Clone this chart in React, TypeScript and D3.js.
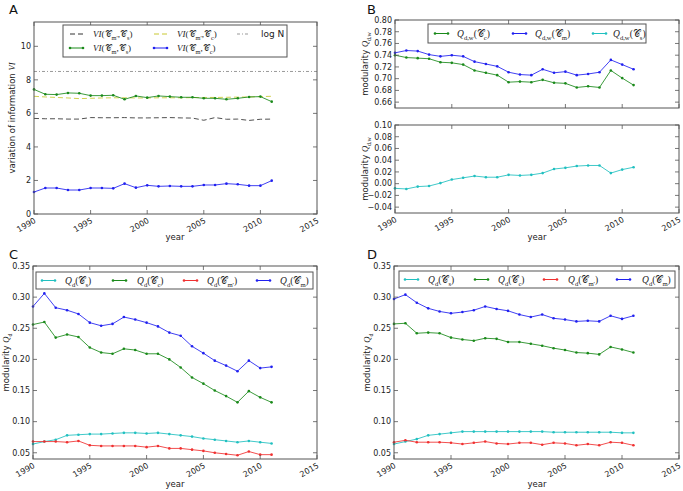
import React from "react";
import * as d3 from "d3";

const years = [1990,1991,1992,1993,1994,1995,1996,1997,1998,1999,2000,2001,2002,2003,2004,2005,2006,2007,2008,2009,2010,2011];

// Panel A
const viMCs = [7.43,7.14,7.12,7.22,7.20,7.06,7.06,7.08,6.84,7.04,6.94,7.04,7.00,6.96,6.96,6.90,6.90,6.84,6.90,6.98,7.00,6.70];
const viMCc = [1.31,1.55,1.55,1.43,1.43,1.55,1.55,1.53,1.81,1.57,1.71,1.65,1.67,1.65,1.65,1.73,1.73,1.81,1.77,1.69,1.69,1.99];
const viMpCc = [7.02,6.98,6.95,6.92,6.88,6.90,6.92,6.93,6.93,6.92,6.92,6.93,6.93,6.93,6.94,6.95,6.95,6.96,6.97,6.98,7.00,7.02];
const viMpCs = [5.70,5.68,5.68,5.66,5.66,5.75,5.74,5.74,5.75,5.73,5.73,5.74,5.75,5.73,5.72,5.59,5.75,5.65,5.66,5.58,5.65,5.66];
const logN = 8.5;

// Panel B
const qdwCm = [0.744,0.748,0.747,0.741,0.738,0.740,0.738,0.729,0.725,0.721,0.711,0.707,0.706,0.716,0.710,0.712,0.706,0.708,0.711,0.732,0.724,0.716];
const qdwCc = [0.740,0.736,0.735,0.734,0.728,0.727,0.724,0.714,0.710,0.706,0.694,0.695,0.694,0.698,0.693,0.692,0.685,0.687,0.685,0.714,0.701,0.689];
const qdwCs = [-0.008,-0.009,-0.005,-0.004,0.001,0.007,0.010,0.013,0.011,0.011,0.015,0.014,0.015,0.018,0.025,0.027,0.030,0.031,0.031,0.018,0.024,0.028];

// Panel C
const cCm = [0.285,0.306,0.283,0.279,0.273,0.259,0.254,0.257,0.268,0.264,0.259,0.253,0.243,0.238,0.221,0.210,0.198,0.190,0.181,0.198,0.186,0.188];
const cCc = [0.256,0.260,0.235,0.240,0.236,0.219,0.211,0.209,0.217,0.215,0.209,0.209,0.200,0.187,0.171,0.161,0.150,0.141,0.131,0.149,0.139,0.131];
const cCs = [0.064,0.068,0.071,0.078,0.079,0.080,0.080,0.081,0.082,0.082,0.081,0.082,0.080,0.078,0.076,0.073,0.071,0.069,0.067,0.069,0.067,0.065];
const cCmp = [0.068,0.068,0.068,0.067,0.069,0.062,0.061,0.061,0.061,0.061,0.059,0.061,0.057,0.057,0.055,0.053,0.050,0.048,0.046,0.052,0.047,0.047];

// Panel D
const dCm = [0.297,0.304,0.291,0.282,0.277,0.274,0.276,0.279,0.285,0.281,0.278,0.272,0.268,0.272,0.266,0.264,0.261,0.262,0.261,0.270,0.265,0.270];
const dCc = [0.257,0.258,0.242,0.243,0.242,0.235,0.232,0.230,0.234,0.233,0.228,0.228,0.225,0.222,0.218,0.215,0.211,0.210,0.208,0.220,0.216,0.211];
const dCs = [0.064,0.068,0.072,0.078,0.080,0.082,0.084,0.084,0.084,0.084,0.084,0.084,0.084,0.084,0.083,0.083,0.083,0.083,0.083,0.083,0.082,0.082];
const dCmp = [0.067,0.070,0.067,0.067,0.067,0.066,0.064,0.066,0.068,0.065,0.064,0.066,0.066,0.063,0.066,0.065,0.062,0.064,0.062,0.067,0.066,0.062];

const xTickVals = [1990,1995,2000,2005,2010,2015];

const BLUE = "#2020f0";
const GREEN = "#1a8a1a";
const RED = "#f03030";
const CYAN = "#20c0c0";
const YELLOW = "#c8c830";
const FRAME = "#555";
const SANS = "DejaVu Sans, sans-serif";
const SERIF = "Liberation Serif, DejaVu Serif, serif";

type Seg = [string, string];

function Mt({ x, y, segs, size = 10, anchor = "start", transform }: any) {
  let cur = 0;
  const out: any[] = [];
  segs.forEach(([t, k]: Seg, i: number) => {
    const target = k === "s" ? size * 0.3 : 0;
    const dy = target - cur;
    cur = target;
    out.push(
      <tspan key={i} dy={dy} fontSize={k === "s" ? size * 0.7 : size} fontStyle={k === "i" ? "italic" : "normal"}
        fontFamily={k === "t" ? SANS : SERIF}>
        {t}
      </tspan>
    );
  });
  return (
    <text x={x} y={y} textAnchor={anchor} fill="#222" transform={transform}>
      {out}
    </text>
  );
}

function Frame({ x, y, yTicks, yFmt, showXLabels }: any) {
  const [x0, x1] = x.range();
  const [yb, yt] = y.range();
  return (
    <g>
      {xTickVals.map((t) => (
        <g key={"x" + t}>
          <line x1={x(t)} x2={x(t)} y1={yb} y2={yb - 4} stroke={FRAME} strokeWidth={0.8} />
          <line x1={x(t)} x2={x(t)} y1={yt} y2={yt + 4} stroke={FRAME} strokeWidth={0.8} />
          {showXLabels && (
            <text transform={`translate(${x(t) - 0.5},${yb + 3}) rotate(-30)`} textAnchor="end" dy="0.75em"
              fontSize={8} fontFamily={SANS} fill="#222">{t}</text>
          )}
        </g>
      ))}
      {yTicks.map((t: number) => (
        <g key={"y" + t}>
          <line x1={x0} x2={x0 + 4} y1={y(t)} y2={y(t)} stroke={FRAME} strokeWidth={0.8} />
          <line x1={x1} x2={x1 - 4} y1={y(t)} y2={y(t)} stroke={FRAME} strokeWidth={0.8} />
          <text x={x0 - 3} y={y(t)} dy="0.35em" textAnchor="end" fontSize={8} fontFamily={SANS} fill="#222">
            {yFmt(t)}
          </text>
        </g>
      ))}
      <rect x={x0} y={yt} width={x1 - x0} height={yb - yt} fill="none" stroke={FRAME} strokeWidth={1} />
    </g>
  );
}

function Series({ x, y, vals, color, dash, markers = true }: any) {
  const line = d3.line<number>().x((_, i) => x(years[i])).y((v) => y(v));
  return (
    <g>
      <path d={line(vals) || ""} fill="none" stroke={color} strokeWidth={1} strokeDasharray={dash} strokeOpacity={0.85} />
      {markers && vals.map((v: number, i: number) => (
        <circle key={i} cx={x(years[i])} cy={y(v)} r={1.3} fill={color} />
      ))}
    </g>
  );
}

function LegSample({ x, y, color, dash, markers = true }: any) {
  return (
    <g>
      <line x1={x} x2={x + 13} y1={y} y2={y} stroke={color} strokeWidth={1} strokeDasharray={dash} />
      {markers && <circle cx={x} cy={y} r={1.3} fill={color} />}
      {markers && <circle cx={x + 13} cy={y} r={1.3} fill={color} />}
    </g>
  );
}

const fmt2 = (v: number) => (v < 0 ? "\u2212" + Math.abs(v).toFixed(2) : v.toFixed(2));
const C = "\u{1D49E}";

function qd(sub: string): Seg[] {
  return [["Q", "i"], ["d", "s"], ["(", "n"], [C, "n"], [sub, "s"], [")", "n"]];
}
function qdw(sub: string): Seg[] {
  return [["Q", "i"], ["d,w", "s"], ["(", "n"], [C, "n"], [sub, "s"], [")", "n"]];
}
function vi(a: string, b: string): Seg[] {
  return [["VI", "i"], ["(", "n"], [C, "n"], [a, "s"], [",", "n"], [C, "n"], [b, "s"], [")", "n"]];
}

export default function App() {
  // Panel A
  const xA = d3.scaleLinear().domain([1990, 2015]).range([34, 317]);
  const yA = d3.scaleLinear().domain([0, 11.45]).range([214, 22]);
  // Panel B
  const xB = d3.scaleLinear().domain([1990, 2015]).range([395, 679]);
  const yB1 = d3.scaleLinear().domain([0.65, 0.8]).range([108, 20]);
  const yB2 = d3.scaleLinear().domain([-0.05, 0.1]).range([213, 125]);
  // Panel C / D
  const xC = d3.scaleLinear().domain([1990, 2015]).range([33, 317]);
  const yC = d3.scaleLinear().domain([0.04, 0.35]).range([459, 266]);
  const xD = d3.scaleLinear().domain([1990, 2015]).range([394, 679]);
  const yD = d3.scaleLinear().domain([0.04, 0.35]).range([459, 266]);

  const qTicks = [0.05, 0.1, 0.15, 0.2, 0.25, 0.3, 0.35];

  return (
    <svg width={683} height={491} style={{ display: "block", position: "absolute", left: 0, top: 0 }}>
      <rect width={683} height={491} fill="#fff" />

      {/* Panel A */}
      <text x={9} y={14} fontSize={13} fontFamily={SANS} fill="#111">A</text>
      <line x1={34} x2={317} y1={yA(logN)} y2={yA(logN)} stroke="#999" strokeWidth={1} strokeDasharray="3,2,1,2" />
      <Series x={xA} y={yA} vals={viMpCs} color="#333" dash="5,3" markers={false} />
      <Series x={xA} y={yA} vals={viMpCc} color={YELLOW} dash="5,3" markers={false} />
      <Series x={xA} y={yA} vals={viMCs} color={GREEN} />
      <Series x={xA} y={yA} vals={viMCc} color={BLUE} />
      <Frame x={xA} y={yA} yTicks={[0, 2, 4, 6, 8, 10]} yFmt={(v: number) => String(v)} showXLabels />
      <rect x={63} y={25} width={224} height={32} fill="#fff" stroke={FRAME} strokeWidth={1} />
      <LegSample x={70} y={34} color="#333" dash="5,3" markers={false} />
      <Mt x={93} y={37} segs={vi("m\u2032", "s")} size={9} />
      <LegSample x={154} y={34} color={YELLOW} dash="5,3" markers={false} />
      <Mt x={177} y={37} segs={vi("m\u2032", "c")} size={9} />
      <LegSample x={237} y={34} color="#999" dash="3,2,1,2" markers={false} />
      <text x={261} y={37} fontSize={9} fontFamily={SANS} fill="#222">log N</text>
      <LegSample x={70} y={48} color={GREEN} />
      <Mt x={93} y={51} segs={vi("m", "s")} size={9} />
      <LegSample x={154} y={48} color={BLUE} />
      <Mt x={177} y={51} segs={vi("m", "c")} size={9} />
      <Mt x={0} y={0} transform={`translate(15,${(22 + 214) / 2}) rotate(-90)`} anchor="middle" size={8.5}
        segs={[["variation of information ", "t"], ["VI", "i"]]} />
      <text x={175} y={240} textAnchor="middle" fontSize={8.5} fontFamily={SANS} fill="#222">year</text>

      {/* Panel B */}
      <text x={367} y={14} fontSize={13} fontFamily={SANS} fill="#111">B</text>
      <Series x={xB} y={yB1} vals={qdwCc} color={GREEN} />
      <Series x={xB} y={yB1} vals={qdwCm} color={BLUE} />
      <Frame x={xB} y={yB1} yTicks={[0.66, 0.68, 0.7, 0.72, 0.74, 0.76, 0.78, 0.8]} yFmt={fmt2} showXLabels={false} />
      <rect x={428} y={24} width={218} height={19} fill="#fff" stroke={FRAME} strokeWidth={1} />
      <LegSample x={435} y={33.5} color={GREEN} />
      <Mt x={457} y={37} segs={qdw("c")} size={9.5} />
      <LegSample x={513} y={33.5} color={BLUE} />
      <Mt x={535} y={37} segs={qdw("m")} size={9.5} />
      <LegSample x={593} y={33.5} color={CYAN} />
      <Mt x={613} y={37} segs={qdw("s")} size={9.5} />
      <Mt x={0} y={0} transform={`translate(368,${(20 + 108) / 2}) rotate(-90)`} anchor="middle" size={8.5}
        segs={[["modularity ", "t"], ["Q", "i"], ["d,w", "s"]]} />

      <Series x={xB} y={yB2} vals={qdwCs} color={CYAN} />
      <Frame x={xB} y={yB2} yTicks={[-0.04, -0.02, 0, 0.02, 0.04, 0.06, 0.08, 0.1]} yFmt={fmt2} showXLabels />
      <Mt x={0} y={0} transform={`translate(368,${(125 + 213) / 2}) rotate(-90)`} anchor="middle" size={8.5}
        segs={[["modularity ", "t"], ["Q", "i"], ["d,w", "s"]]} />
      <text x={537} y={240} textAnchor="middle" fontSize={8.5} fontFamily={SANS} fill="#222">year</text>

      {/* Panel C */}
      <text x={9} y={259} fontSize={13} fontFamily={SANS} fill="#111">C</text>
      <Series x={xC} y={yC} vals={cCs} color={CYAN} />
      <Series x={xC} y={yC} vals={cCc} color={GREEN} />
      <Series x={xC} y={yC} vals={cCmp} color={RED} />
      <Series x={xC} y={yC} vals={cCm} color={BLUE} />
      <Frame x={xC} y={yC} yTicks={qTicks} yFmt={fmt2} showXLabels />
      <rect x={36} y={272} width={277} height={17} fill="#fff" stroke={FRAME} strokeWidth={1} />
      <LegSample x={42} y={280.5} color={CYAN} />
      <Mt x={65} y={284} segs={qd("s")} size={9.5} />
      <LegSample x={113} y={280.5} color={GREEN} />
      <Mt x={137} y={284} segs={qd("c")} size={9.5} />
      <LegSample x={184} y={280.5} color={RED} />
      <Mt x={207} y={284} segs={qd("m\u2032")} size={9.5} />
      <LegSample x={257} y={280.5} color={BLUE} />
      <Mt x={280} y={284} segs={qd("m")} size={9.5} />
      <Mt x={0} y={0} transform={`translate(9,${(266 + 459) / 2}) rotate(-90)`} anchor="middle" size={8.5}
        segs={[["modularity ", "t"], ["Q", "i"], ["d", "s"]]} />
      <text x={175} y={487} textAnchor="middle" fontSize={8.5} fontFamily={SANS} fill="#222">year</text>

      {/* Panel D */}
      <text x={367} y={259} fontSize={13} fontFamily={SANS} fill="#111">D</text>
      <Series x={xD} y={yD} vals={dCs} color={CYAN} />
      <Series x={xD} y={yD} vals={dCc} color={GREEN} />
      <Series x={xD} y={yD} vals={dCmp} color={RED} />
      <Series x={xD} y={yD} vals={dCm} color={BLUE} />
      <Frame x={xD} y={yD} yTicks={qTicks} yFmt={fmt2} showXLabels />
      <rect x={399} y={271} width={276} height={17} fill="#fff" stroke={FRAME} strokeWidth={1} />
      <LegSample x={405} y={279.5} color={CYAN} />
      <Mt x={428} y={283} segs={qd("s")} size={9.5} />
      <LegSample x={475} y={279.5} color={GREEN} />
      <Mt x={498} y={283} segs={qd("c")} size={9.5} />
      <LegSample x={544} y={279.5} color={RED} />
      <Mt x={568} y={283} segs={qd("m\u2032")} size={9.5} />
      <LegSample x={617} y={279.5} color={BLUE} />
      <Mt x={642} y={283} segs={qd("m")} size={9.5} />
      <Mt x={0} y={0} transform={`translate(370,${(266 + 459) / 2}) rotate(-90)`} anchor="middle" size={8.5}
        segs={[["modularity ", "t"], ["Q", "i"], ["d", "s"]]} />
      <text x={537} y={487} textAnchor="middle" fontSize={8.5} fontFamily={SANS} fill="#222">year</text>
    </svg>
  );
}
